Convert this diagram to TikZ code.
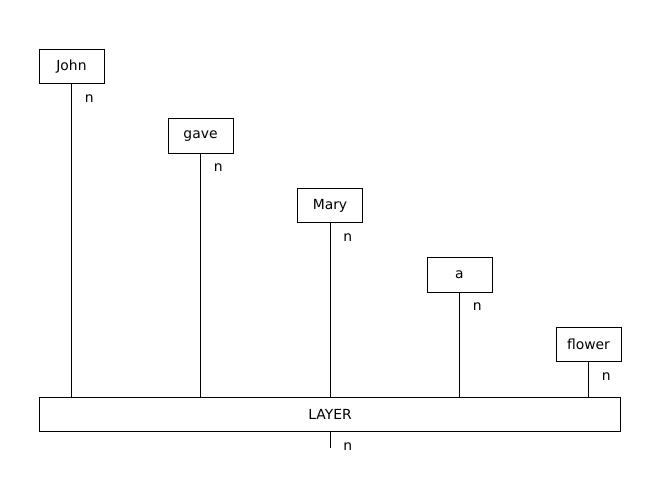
\documentclass[tikz,border=0pt]{standalone}
\usepackage{fontspec}
\setmainfont{DejaVu Sans}
\begin{document}
\begin{tikzpicture}[x=0.72pt,y=-0.72pt,
  wbox/.style={draw,line width=0.72pt,minimum width=46.8pt,minimum height=25pt,inner sep=0pt,font=\fontsize{10}{12}\selectfont},
  conn/.style={line width=0.72pt},
  lab/.style={font=\fontsize{10}{12}\selectfont,inner sep=0pt}]
\useasboundingbox (0,0) rectangle (660,499);
\node[wbox] (john) at (71.5,66.5) {John};
\node[wbox] (gave) at (200.5,136) {gave};
\node[wbox] (mary) at (330,205.5) {Mary};
\node[wbox] (a) at (459.5,275) {a};
\node[wbox] (flower) at (588.5,344.5) {flower};
\node[draw,line width=0.72pt,minimum width=419pt,minimum height=25pt,inner sep=0pt,font=\fontsize{10}{12}\selectfont] (layer) at (330,414.5) {LAYER};
\coordinate (out) at (330,448);
\foreach \n in {john,gave,mary,a,flower}{
  \draw[conn] (\n.south) -- (\n.south |- layer.north);
  \node[lab,anchor=west] at ([xshift=9.5pt,yshift=-10pt]\n.south) {n};
}
\draw[conn] (layer.south) -- (out);
\node[lab,anchor=west] at ([xshift=9.5pt,yshift=-10pt]layer.south) {n};
\end{tikzpicture}
\end{document}
